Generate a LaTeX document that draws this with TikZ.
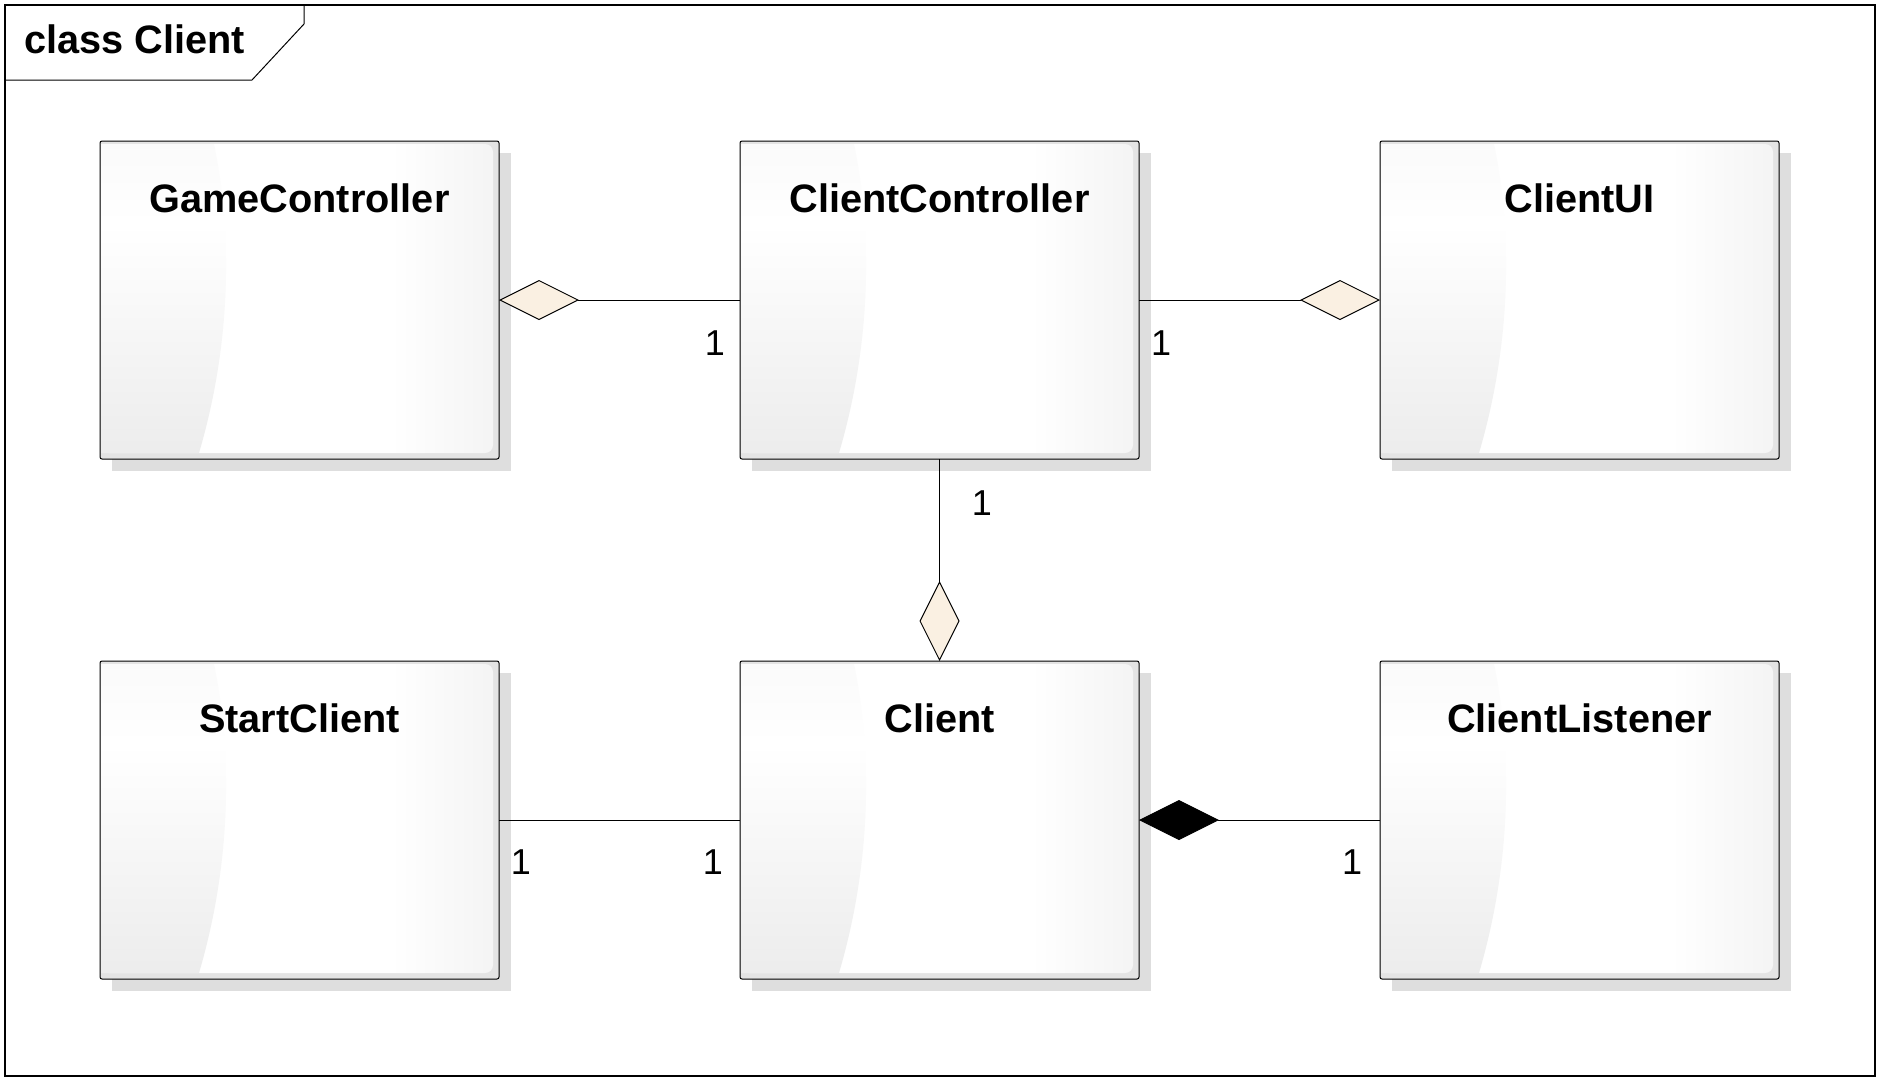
\documentclass[tikz,border=0pt]{standalone}
\usepackage{fontspec}
\setmainfont{Liberation Sans}
\usetikzlibrary{arrows.meta}
\definecolor{shadowgray}{RGB}{222,222,222}
\definecolor{basegray}{RGB}{228,228,228}
\definecolor{edgegray}{RGB}{224,224,224}
\definecolor{topgray}{RGB}{241,241,241}
\definecolor{diamondfill}{RGB}{250,240,226}
\pgfdeclarehorizontalshading{boxright}{100bp}{color(0bp)=(white); color(62bp)=(white); color(100bp)=(edgegray)}
\pgfdeclareverticalshading{boxleft}{100bp}{color(0bp)=(edgegray); color(62bp)=(white); color(100bp)=(topgray)}
\tikzset{
  classnode/.style={draw=none, rectangle, minimum width=399pt, minimum height=318pt, inner sep=0pt, outer sep=0pt},
  classtitle/.style={anchor=base, inner sep=0pt, font=\bfseries\fontsize{39.7}{46}\selectfont},
  conn/.style={line width=1pt, draw=black},
  aggr/.style={conn, -{Diamond[length=80pt,width=40pt,fill=diamondfill]}},
  comp/.style={conn, -{Diamond[length=80pt,width=40pt,fill=black]}},
  mult/.style={inner sep=0pt, font=\fontsize{36}{40}\selectfont},
  frameline/.style={line width=1.3pt, draw=black}
}
\newcommand\umlclassbox[4]{%
  \begin{scope}[shift={(#2,#3)}]
    \fill[shadowgray] (12,12) rectangle (411,330);
    \fill[basegray, rounded corners=2] (0,0) rectangle (399,318);
    \shade[shading=boxright, rounded corners=8] (1,3) rectangle (393,312);
    \shade[shading=boxleft] (1,3) -- (114,3) .. controls (132,90) and (132,200) .. (99,312) -- (1,312) -- cycle;
    \draw[line width=1pt, rounded corners=2] (0,0) rectangle (399,318);
    \node[classtitle] (#1-title) at (199.5,71) {#4};
    \node[classnode] (#1) at (199.5,159) {};
  \end{scope}}
\begin{document}
\begin{tikzpicture}[x=1pt, y=-1pt]
  \fill[white] (0,0) rectangle (1880,1080);
  \useasboundingbox (0,0) rectangle (1880,1080);
  % frame
  \draw[frameline] (5,5) rectangle (1875,1076);
  \draw[line width=1pt] (5,80) -- (252,80) -- (304,24) -- (304,5);
  \node[anchor=base west, inner sep=0pt, font=\bfseries\fontsize{39.7}{46}\selectfont] (title) at (24,53) {class Client};
  % classes
  \umlclassbox{gc}{100}{141}{GameController}
  \umlclassbox{cc}{740}{141}{ClientController}
  \umlclassbox{ui}{1380}{141}{ClientUI}
  \umlclassbox{sc}{100}{661}{StartClient}
  \umlclassbox{cl}{740}{661}{Client}
  \umlclassbox{li}{1380}{661}{ClientListener}
  % connectors
  \draw[aggr] (cc.west) -- (gc.east);
  \draw[aggr] (cc.east) -- (ui.west);
  \draw[aggr] (cc.south) -- (cl.north);
  \draw[conn] (sc.east) -- (cl.west);
  \draw[comp] (li.west) -- (cl.east);
  % multiplicities
  \node[mult] (m1) at (715,343) {1};
  \node[mult] (m2) at (1161,343) {1};
  \node[mult] (m3) at (982,503) {1};
  \node[mult] (m4) at (521,862) {1};
  \node[mult] (m5) at (713,862) {1};
  \node[mult] (m6) at (1352,862) {1};
\end{tikzpicture}
\end{document}
